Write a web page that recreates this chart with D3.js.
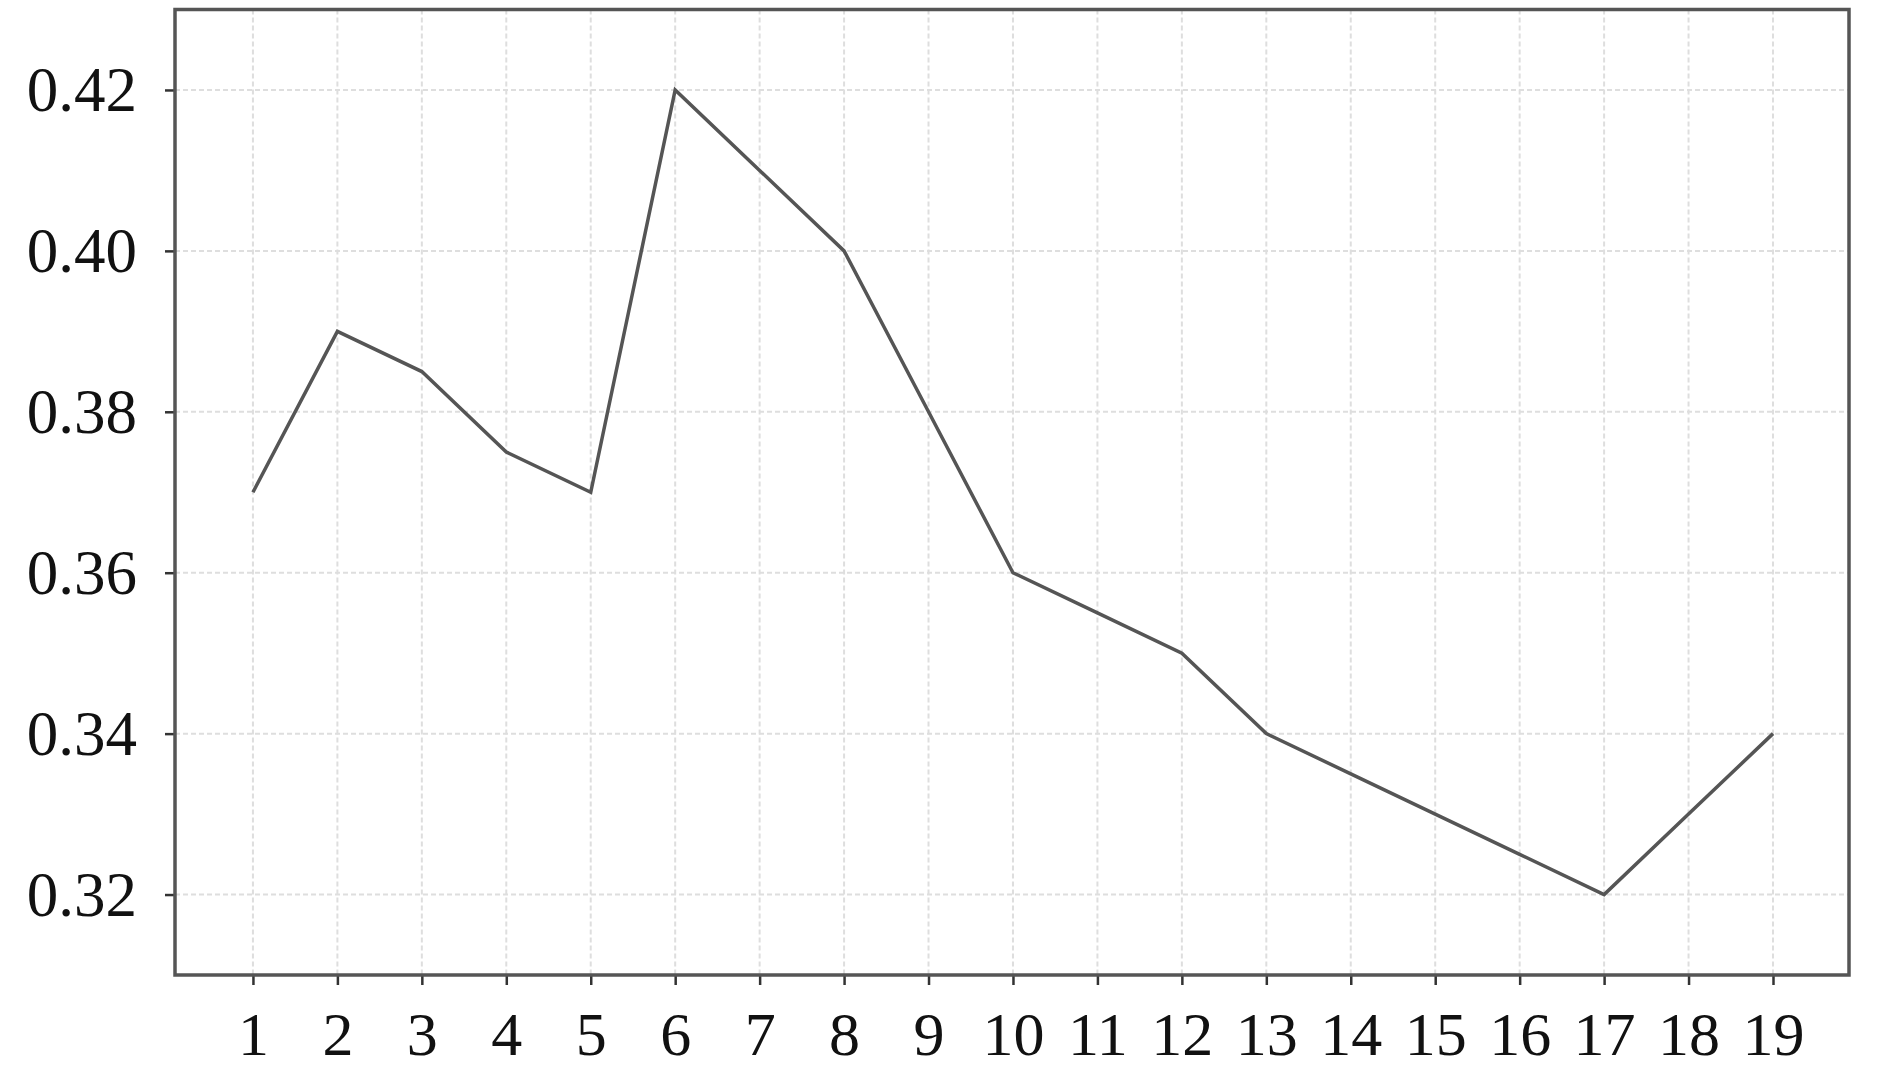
<!DOCTYPE html>
<html>
<head>
	<meta charset="utf-8">
	<script src="https://d3js.org/d3.v7.min.js"></script>
	<style>
		body { margin: 0; background: #fff; }
		.tick text { font-family: "Liberation Serif", "Times New Roman", serif; fill: #111; }
		.grid line { stroke: #dedede; stroke-width: 2; stroke-dasharray: 5 3; }
	</style>
</head>
<body>
	<svg width="1890" height="1073"></svg>
	<script>
		// data
		var steps = [1, 2, 3, 4, 5, 6, 7, 8, 9, 10, 11, 12, 13, 14, 15, 16, 17, 18, 19];
		var values = [0.37, 0.39, 0.385, 0.375, 0.37, 0.42, 0.41, 0.40, 0.38, 0.36,
			0.355, 0.35, 0.34, 0.335, 0.33, 0.325, 0.32, 0.33, 0.34];
		var yTicks = [0.32, 0.34, 0.36, 0.38, 0.40, 0.42];

		var svg = d3.select("svg"),
			margin = {top: 9.5, right: 41, bottom: 98, left: 175},
			width = +svg.attr("width") - margin.left - margin.right,
			height = +svg.attr("height") - margin.top - margin.bottom;

		var x = d3.scaleLinear().domain([0.077, 19.9]).range([0, width]),
			y = d3.scaleLinear().domain([0.31, 0.43]).range([height, 0]);

		var g = svg.append("g")
			.attr("transform", "translate(" + margin.left + "," + margin.top + ")");

		// grid
		g.append("g").attr("class", "grid")
			.selectAll("line").data(steps).enter().append("line")
			.attr("x1", function(d) { return x(d); })
			.attr("x2", function(d) { return x(d); })
			.attr("y1", 0).attr("y2", height);

		g.append("g").attr("class", "grid")
			.selectAll("line").data(yTicks).enter().append("line")
			.attr("x1", 0).attr("x2", width)
			.attr("y1", function(d) { return y(d); })
			.attr("y2", function(d) { return y(d); });

		// axes
		var xAxis = g.append("g")
			.attr("transform", "translate(0," + height + ")")
			.call(d3.axisBottom(x).tickValues(steps).tickSize(10).tickPadding(26).tickFormat(d3.format("d")));
		xAxis.select(".domain").remove();
		xAxis.selectAll(".tick line").attr("stroke", "#333").attr("stroke-width", 2.5);
		xAxis.selectAll(".tick text").attr("font-size", 62);

		var yAxis = g.append("g")
			.call(d3.axisLeft(y).tickValues(yTicks).tickSize(10).tickPadding(28).tickFormat(d3.format(".2f")));
		yAxis.select(".domain").remove();
		yAxis.selectAll(".tick line").attr("stroke", "#333").attr("stroke-width", 2.5);
		yAxis.selectAll(".tick text").attr("font-size", 63).attr("dy", "0.33em");

		// frame
		g.append("rect")
			.attr("width", width).attr("height", height)
			.attr("fill", "none").attr("stroke", "#555").attr("stroke-width", 3.5);

		// line
		var line = d3.line()
			.x(function(d, i) { return x(steps[i]); })
			.y(function(d) { return y(d); });

		g.append("path")
			.datum(values)
			.attr("fill", "none")
			.attr("stroke", "#555")
			.attr("stroke-width", 3.5)
			.attr("stroke-linejoin", "miter")
			.attr("d", line);
	</script>
</body>
</html>
